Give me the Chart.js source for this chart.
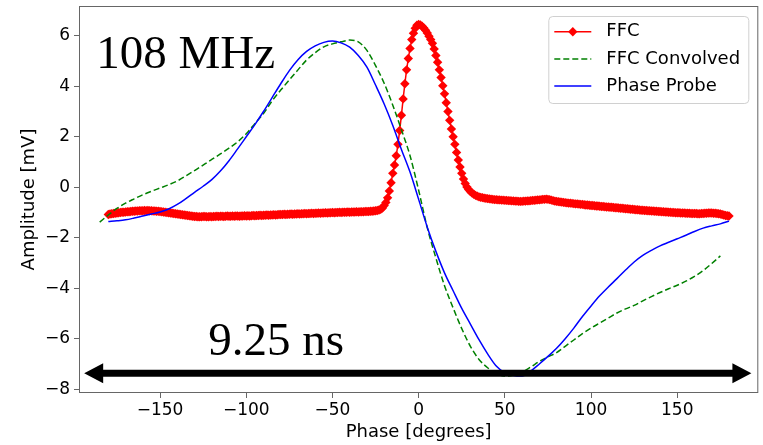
<!DOCTYPE html>
<html>
<head>
<meta charset="utf-8">
<title>108 MHz phase scan</title>
<script src="https://cdn.jsdelivr.net/npm/chart.js@4/dist/chart.umd.min.js"></script>
<style>
  html, body { margin: 0; padding: 0; background: #fff; }
</style>
</head>
<body>
<canvas id="myChart" width="763" height="445"></canvas>
<script>
// FFC measurement, one point per degree starting at -180
const FFC_START = -180;
const FFC_VALUES = [
  -1.08,-1.06,-1.05,-1.04,-1.03,-1.02,-1.01,-1.00,-0.99,-0.99,
  -0.98,-0.97,-0.97,-0.96,-0.95,-0.95,-0.94,-0.94,-0.93,-0.93,
  -0.93,-0.92,-0.93,-0.92,-0.93,-0.93,-0.94,-0.94,-0.95,-0.95,
  -0.96,-0.97,-0.98,-0.99,-1.00,-1.01,-1.02,-1.03,-1.04,-1.05,
  -1.06,-1.07,-1.08,-1.09,-1.10,-1.11,-1.12,-1.13,-1.14,-1.15,
  -1.16,-1.16,-1.17,-1.17,-1.17,-1.16,-1.16,-1.17,-1.17,-1.16,
  -1.17,-1.16,-1.16,-1.15,-1.16,-1.15,-1.15,-1.16,-1.15,-1.14,
  -1.15,-1.15,-1.14,-1.15,-1.14,-1.14,-1.15,-1.14,-1.14,-1.13,
  -1.14,-1.13,-1.14,-1.13,-1.12,-1.13,-1.12,-1.12,-1.11,-1.12,
  -1.11,-1.11,-1.10,-1.11,-1.10,-1.10,-1.09,-1.10,-1.09,-1.08,
  -1.08,-1.08,-1.07,-1.08,-1.07,-1.07,-1.06,-1.07,-1.06,-1.06,
  -1.05,-1.06,-1.05,-1.05,-1.04,-1.05,-1.04,-1.04,-1.03,-1.04,
  -1.03,-1.03,-1.02,-1.03,-1.02,-1.02,-1.01,-1.02,-1.01,-1.01,
  -1.00,-1.01,-1.00,-1.00,-0.99,-1.00,-0.99,-0.99,-0.99,-0.98,
  -0.99,-0.98,-0.98,-0.98,-0.97,-0.98,-0.97,-0.97,-0.97,-0.96,
  -0.96,-0.96,-0.95,-0.95,-0.94,-0.93,-0.92,-0.90,-0.87,-0.82,
  -0.72,-0.60,-0.42,-0.15, 0.18, 0.55, 0.88, 1.25, 1.70, 2.25,
   2.85, 3.50, 4.10, 4.65, 5.10, 5.50, 5.85, 6.10, 6.30, 6.42,
   6.45, 6.43, 6.38, 6.31, 6.22, 6.11, 5.98, 5.85, 5.70, 5.48,
   5.22, 4.95, 4.65, 4.35, 4.02, 3.70, 3.35, 3.00, 2.65, 2.31,
   2.00, 1.70, 1.38, 1.08, 0.80, 0.55, 0.33, 0.15, 0.01,-0.09,
  -0.17,-0.23,-0.28,-0.32,-0.35,-0.38,-0.40,-0.41,-0.43,-0.44,
  -0.45,-0.46,-0.47,-0.48,-0.49,-0.49,-0.50,-0.50,-0.51,-0.51,
  -0.52,-0.52,-0.53,-0.53,-0.54,-0.54,-0.55,-0.55,-0.56,-0.56,
  -0.56,-0.55,-0.55,-0.54,-0.54,-0.53,-0.52,-0.52,-0.51,-0.50,
  -0.50,-0.49,-0.48,-0.48,-0.47,-0.48,-0.49,-0.51,-0.53,-0.55,
  -0.56,-0.57,-0.58,-0.59,-0.60,-0.61,-0.62,-0.63,-0.63,-0.64,
  -0.65,-0.66,-0.66,-0.67,-0.68,-0.68,-0.69,-0.70,-0.70,-0.71,
  -0.72,-0.72,-0.73,-0.74,-0.74,-0.75,-0.76,-0.76,-0.77,-0.78,
  -0.78,-0.79,-0.79,-0.80,-0.81,-0.81,-0.82,-0.83,-0.83,-0.84,
  -0.85,-0.85,-0.86,-0.87,-0.87,-0.88,-0.89,-0.89,-0.90,-0.91,
  -0.91,-0.92,-0.92,-0.93,-0.93,-0.94,-0.94,-0.95,-0.95,-0.96,
  -0.96,-0.97,-0.97,-0.98,-0.98,-0.99,-0.99,-1.00,-1.00,-1.01,
  -1.01,-1.01,-1.02,-1.02,-1.02,-1.03,-1.03,-1.03,-1.04,-1.04,
  -1.04,-1.04,-1.05,-1.05,-1.04,-1.04,-1.03,-1.03,-1.02,-1.02,
  -1.02,-1.03,-1.03,-1.04,-1.05,-1.06,-1.08,-1.10,-1.12,-1.13,
  -1.14
];

// FFC convolved (green dashed)
const CONV_PHASE = [
  -185,-180,-175,-170,-165,-160,-155,-150,-145,-140,-135,-130,-125,-120,-115,-110,-105,-100,
  -95,-90,-85,-80,-75,-70,-65,-60,-55,-50,-45,-40,-35,-30,-25,-20,-15,-10,-5,
  0,5,10,15,20,25,30,35,40,45,50,55,60,65,70,75,80,85,90,95,
  100,105,110,115,120,125,130,135,140,145,150,155,160,165,170,175
];
const CONV_VALUES = [
  -1.38,-1.10,-0.84,-0.63,-0.46,-0.30,-0.16,-0.03,0.10,0.25,0.45,0.66,0.88,1.10,1.32,1.55,1.80,2.12,
  2.52,2.92,3.42,3.85,4.25,4.65,5.04,5.33,5.56,5.68,5.76,5.83,5.76,5.42,4.82,4.12,3.25,2.28,1.25,
  -0.12,-1.60,-2.80,-3.90,-4.78,-5.60,-6.30,-6.82,-7.15,-7.38,-7.48,-7.45,-7.32,-7.12,-6.90,-6.72,-6.55,-6.30,-6.05,-5.80,
  -5.58,-5.38,-5.18,-4.98,-4.82,-4.68,-4.50,-4.33,-4.17,-4.02,-3.88,-3.72,-3.53,-3.30,-3.02,-2.72
];

// Phase probe (blue)
const PROBE_PHASE = [
  -180,-175,-170,-165,-160,-155,-150,-145,-140,-135,-130,-125,-120,-115,-110,-105,-100,
  -95,-90,-85,-80,-75,-70,-65,-60,-55,-50,-45,-40,-35,-30,-25,-20,-15,-10,-5,
  0,5,10,15,20,25,30,35,40,45,50,55,60,65,70,75,80,85,90,95,
  100,105,110,115,120,125,130,135,140,145,150,155,160,165,170,175,180
];
const PROBE_VALUES = [
  -1.36,-1.33,-1.29,-1.22,-1.14,-1.06,-0.98,-0.86,-0.68,-0.45,-0.20,0.04,0.30,0.64,1.05,1.52,2.00,
  2.48,3.00,3.55,4.10,4.62,5.05,5.38,5.60,5.74,5.79,5.72,5.55,5.22,4.76,4.05,3.30,2.45,1.50,0.60,
  -0.48,-1.58,-2.54,-3.39,-4.10,-4.80,-5.42,-6.04,-6.60,-7.08,-7.35,-7.46,-7.48,-7.28,-7.00,-6.70,-6.38,-6.00,-5.58,-5.12,
  -4.70,-4.30,-3.95,-3.62,-3.28,-2.96,-2.70,-2.50,-2.32,-2.18,-2.04,-1.90,-1.75,-1.62,-1.53,-1.45,-1.34
];

const X_TICKS = [-150, -100, -50, 0, 50, 100, 150];
const Y_TICKS = [-8, -6, -4, -2, 0, 2, 4, 6];

// annotations (data coordinates)
const ARROW_X = [-194, 193];
const ARROW_Y = -7.37;
const LABELS = [
  { text: '108 MHz', x: -187, y: 4.72 },
  { text: '9.25 ns', x: -122, y: -6.64 }
];

const pairs = (xs, ys) => ys.map((v, i) => ({ x: xs[i], y: v }));
const ffcPoints = FFC_VALUES.map((v, i) => ({ x: FFC_START + i, y: v }));
const minus = v => String(v).replace('-', '\u2212');

Chart.defaults.font.family = "'DejaVu Sans', sans-serif";
Chart.defaults.color = '#000';

// frame, arrow, big labels and the in-plot legend
const overlay = {
  id: 'overlay',
  afterDraw(chart) {
    const { ctx, chartArea: a, scales: { x, y } } = chart;
    ctx.save();

    ctx.strokeStyle = '#666';
    ctx.lineWidth = 1;
    ctx.strokeRect(a.left + 0.5, a.top + 0.5, a.right - a.left - 1, a.bottom - a.top - 1);

    // double arrow
    const ay = y.getPixelForValue(ARROW_Y);
    const x0 = x.getPixelForValue(ARROW_X[0]);
    const x1 = x.getPixelForValue(ARROW_X[1]);
    ctx.fillStyle = '#000';
    ctx.strokeStyle = '#000';
    ctx.lineWidth = 7;
    ctx.beginPath();
    ctx.moveTo(x0 + 15, ay);
    ctx.lineTo(x1 - 15, ay);
    ctx.stroke();
    ctx.beginPath();
    ctx.moveTo(x0, ay); ctx.lineTo(x0 + 19, ay - 10); ctx.lineTo(x0 + 19, ay + 10); ctx.closePath();
    ctx.moveTo(x1, ay); ctx.lineTo(x1 - 19, ay - 10); ctx.lineTo(x1 - 19, ay + 10); ctx.closePath();
    ctx.fill();

    ctx.font = '47px "Liberation Serif", serif';
    ctx.textAlign = 'left';
    ctx.textBaseline = 'alphabetic';
    LABELS.forEach(l => ctx.fillText(l.text, x.getPixelForValue(l.x), y.getPixelForValue(l.y)));

    // legend box
    const bx = a.right - 210, by = a.top + 10, bw = 200, bh = 87;
    ctx.beginPath();
    ctx.roundRect(bx + 0.5, by + 0.5, bw, bh, 4);
    ctx.fillStyle = 'rgba(255,255,255,0.8)';
    ctx.fill();
    ctx.strokeStyle = '#d0d0d0';
    ctx.lineWidth = 1;
    ctx.stroke();

    ctx.font = '18px "DejaVu Sans"';
    ctx.textBaseline = 'middle';
    chart.data.datasets.forEach((ds, i) => {
      const cy = by + 15.7 + i * 27.2;
      ctx.strokeStyle = ds.borderColor;
      ctx.lineWidth = ds.borderWidth;
      ctx.setLineDash(ds.borderDash || []);
      ctx.beginPath();
      ctx.moveTo(bx + 6, cy);
      ctx.lineTo(bx + 43, cy);
      ctx.stroke();
      ctx.setLineDash([]);
      if (ds.pointRadius > 0) {
        const r = ds.pointRadius;
        const cx = bx + 24.5;
        ctx.fillStyle = ds.backgroundColor;
        ctx.beginPath();
        ctx.moveTo(cx, cy - r); ctx.lineTo(cx + r, cy); ctx.lineTo(cx, cy + r); ctx.lineTo(cx - r, cy);
        ctx.closePath();
        ctx.fill();
      }
      ctx.fillStyle = '#000';
      ctx.fillText(ds.label, bx + 58, cy);
    });

    ctx.restore();
  }
};

const ctx = document.getElementById('myChart').getContext('2d');
new Chart(ctx, {
  type: 'line',
  data: {
    datasets: [
      {
        label: 'FFC',
        data: ffcPoints,
        borderColor: '#ff0000',
        backgroundColor: '#ff0000',
        borderWidth: 1.5,
        pointStyle: 'rectRot',
        pointRadius: 4.7,
        pointBorderWidth: 0,
        order: 3
      },
      {
        label: 'FFC Convolved',
        data: pairs(CONV_PHASE, CONV_VALUES),
        borderColor: '#008000',
        backgroundColor: '#008000',
        borderWidth: 1.5,
        borderDash: [6, 3],
        pointRadius: 0,
        cubicInterpolationMode: 'monotone',
        order: 2
      },
      {
        label: 'Phase Probe',
        data: pairs(PROBE_PHASE, PROBE_VALUES),
        borderColor: '#0000ff',
        backgroundColor: '#0000ff',
        borderWidth: 1.5,
        pointRadius: 0,
        cubicInterpolationMode: 'monotone',
        order: 1
      }
    ]
  },
  options: {
    responsive: false,
    animation: false,
    events: [],
    layout: { padding: { top: 6, right: 3, left: 0, bottom: 0 } },
    plugins: {
      legend: { display: false },
      tooltip: { enabled: false }
    },
    scales: {
      x: {
        type: 'linear',
        min: -197,
        max: 197,
        afterBuildTicks: axis => { axis.ticks = X_TICKS.map(v => ({ value: v })); },
        afterFit: s => { s.height = 52; s.paddingLeft = 0; s.paddingRight = 0; },
        border: { display: false },
        grid: { drawOnChartArea: false, tickLength: 5, color: '#666' },
        ticks: { font: { size: 17 }, padding: 2, maxRotation: 0, callback: minus },
        title: { display: true, text: 'Phase [degrees]', font: { size: 18 }, padding: { top: 0, bottom: 2 } }
      },
      y: {
        min: -8.15,
        max: 7.18,
        afterBuildTicks: axis => { axis.ticks = Y_TICKS.map(v => ({ value: v })); },
        afterFit: s => { s.width = 79; s.paddingTop = 0; s.paddingBottom = 0; },
        border: { display: false },
        grid: { drawOnChartArea: false, tickLength: 5, color: '#666' },
        ticks: { font: { size: 17 }, padding: 4, callback: minus },
        title: { display: true, text: 'Amplitude [mV]', font: { size: 18 }, padding: { top: 19, bottom: 0 } }
      }
    }
  },
  plugins: [overlay]
});
</script>
</body>
</html>
